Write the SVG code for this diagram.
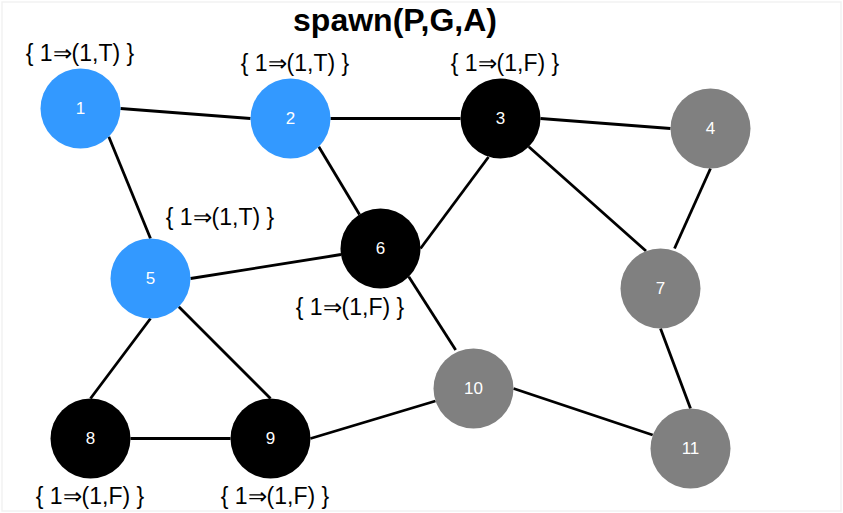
<svg xmlns="http://www.w3.org/2000/svg" width="843" height="513" viewBox="0 0 843 513">
<style>
.n circle{stroke:none}
.blue{fill:#3399FF}
.black{fill:#000000}
.gray{fill:#808080}
.num{font-family:"Liberation Sans",Arial,sans-serif;font-size:17px;fill:#ffffff;text-anchor:middle;dominant-baseline:central}
.lbl{font-family:"Liberation Sans",Arial,sans-serif;font-size:23px;fill:#000000;text-anchor:middle}
#edges line{stroke:#000000;stroke-width:2.8}
</style>
<rect x="0" y="0" width="843" height="513" fill="#ffffff"/>
<rect x="2" y="2" width="839" height="509" fill="none" stroke="#f2f2f2" stroke-width="1.5"/>
<text x="395" y="31" font-family="Liberation Sans,Arial,sans-serif" font-size="32" font-weight="bold" text-anchor="middle">spawn(P,G,A)</text>
<g id="edges">
<line x1="120.5" y1="108.5" x2="250.5" y2="118.5"/>
<line x1="108.8" y1="136.8" x2="150.5" y2="238.5"/>
<line x1="330.5" y1="118.5" x2="460.5" y2="118.5"/>
<line x1="318.8" y1="146.8" x2="359.5" y2="214.5"/>
<line x1="540.5" y1="118.5" x2="670.5" y2="128.5"/>
<line x1="488.5" y1="157" x2="420.5" y2="248.5"/>
<line x1="528.8" y1="146.8" x2="646" y2="251"/>
<line x1="710.5" y1="168.5" x2="674.5" y2="248.5"/>
<line x1="190.5" y1="278.5" x2="341" y2="254.5"/>
<line x1="150.5" y1="318.5" x2="90.5" y2="398.5"/>
<line x1="178.8" y1="306.8" x2="270.5" y2="398.5"/>
<line x1="408.8" y1="276.8" x2="455.7" y2="350"/>
<line x1="660.5" y1="328.5" x2="690.5" y2="408.5"/>
<line x1="130.5" y1="438.5" x2="230.5" y2="438.5"/>
<line x1="310.5" y1="438.5" x2="435.5" y2="401"/>
<line x1="513.5" y1="388.5" x2="652.7" y2="435"/>
</g>
<g id="node1" class="n"><circle class="blue" cx="80.5" cy="108.5" r="40"/><text class="num" x="80.5" y="108.5">1</text><text class="lbl" x="80" y="61">{ 1⇒(1,T) }</text></g>
<g id="node2" class="n"><circle class="blue" cx="290.5" cy="118.5" r="40"/><text class="num" x="290.5" y="118.5">2</text><text class="lbl" x="295" y="71">{ 1⇒(1,T) }</text></g>
<g id="node3" class="n"><circle class="black" cx="500.5" cy="118.5" r="40"/><text class="num" x="500.5" y="118.5">3</text><text class="lbl" x="505" y="71">{ 1⇒(1,F) }</text></g>
<g id="node4" class="n"><circle class="gray" cx="710.5" cy="128.5" r="40"/><text class="num" x="710.5" y="128.5">4</text></g>
<g id="node5" class="n"><circle class="blue" cx="150.5" cy="278.5" r="40"/><text class="num" x="150.5" y="278.5">5</text><text class="lbl" x="220" y="225">{ 1⇒(1,T) }</text></g>
<g id="node6" class="n"><circle class="black" cx="380.5" cy="248.5" r="40"/><text class="num" x="380.5" y="248.5">6</text><text class="lbl" x="350" y="315">{ 1⇒(1,F) }</text></g>
<g id="node7" class="n"><circle class="gray" cx="660.5" cy="288.5" r="40"/><text class="num" x="660.5" y="288.5">7</text></g>
<g id="node8" class="n"><circle class="black" cx="90.5" cy="438.5" r="40"/><text class="num" x="90.5" y="438.5">8</text><text class="lbl" x="90" y="504">{ 1⇒(1,F) }</text></g>
<g id="node9" class="n"><circle class="black" cx="270.5" cy="438.5" r="40"/><text class="num" x="270.5" y="438.5">9</text><text class="lbl" x="275" y="504">{ 1⇒(1,F) }</text></g>
<g id="node10" class="n"><circle class="gray" cx="473.5" cy="388.5" r="40"/><text class="num" x="473.5" y="388.5">10</text></g>
<g id="node11" class="n"><circle class="gray" cx="690.5" cy="448.5" r="40"/><text class="num" x="690.5" y="448.5">11</text></g>
</svg>
